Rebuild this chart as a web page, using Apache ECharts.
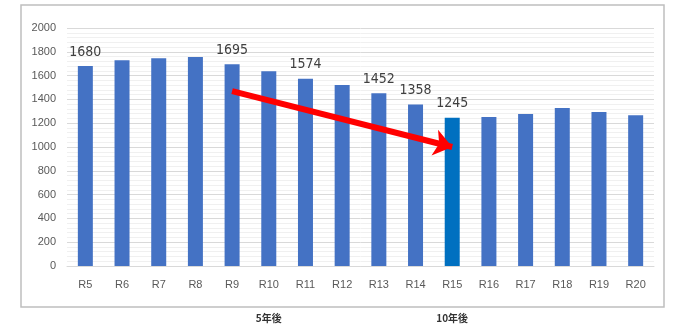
<!DOCTYPE html>
<html><head><meta charset="utf-8">
<script src="https://cdn.jsdelivr.net/npm/echarts@6/dist/echarts.min.js"></script>
<style>html,body{margin:0;padding:0;background:#fff}#c{width:675px;height:325px}</style>
</head><body><div id="c"></div>
<script>
const categories = ['R5','R6','R7','R8','R9','R10','R11','R12','R13','R14','R15','R16','R17','R18','R19','R20'];
const values = [1680,1728,1745,1756,1695,1636,1574,1521,1452,1358,1245,1252,1277,1328,1294,1266];
const labeled = ['R5','R9','R11','R13','R14','R15'];
const highlight = 'R15';
const yTicks = [0,200,400,600,800,1000,1200,1400,1600,1800,2000];
const arrowFrom = ['R9', 1470];
const arrowTo = ['R15', 1000];
const notes = [['R10','5年後'],['R15','10年後']];

const chart = echarts.init(document.getElementById('c'), null, {renderer:'canvas'});
const data = categories.map((c,i)=>({
  value: values[i],
  itemStyle: {color: c===highlight ? '#0070C0' : '#4472C4'},
  label: {show: labeled.includes(c)}
}));
chart.setOption({
  animation:false,
  grid:{left:67,right:21,top:28,bottom:59},
  xAxis:{type:'category',data:categories,
    axisLine:{lineStyle:{color:'#d9d9d9'}},axisTick:{show:false},
    axisLabel:{color:'#595959',fontSize:11,margin:13,fontFamily:'Liberation Sans'}},
  yAxis:{type:'value',min:yTicks[0],max:yTicks[yTicks.length-1],interval:200,
    axisLine:{show:false},axisTick:{show:false},
    axisLabel:{color:'#595959',fontSize:11,margin:11,fontFamily:'Liberation Sans',formatter:v=>String(v)},
    splitLine:{lineStyle:{color:'#d9d9d9'}},
    minorTick:{show:false,splitNumber:5},
    minorSplitLine:{show:true,lineStyle:{color:'#f0f0f0'}}},
  series:[{type:'bar',data:data,barWidth:15,
    label:{position:'top',distance:7,color:'#404040',fontSize:14,fontFamily:'DejaVu Sans Condensed'},
    markLine:{silent:true,symbol:['none','arrow'],symbolSize:[20,18],
      label:{show:false},
      lineStyle:{color:'#FF0000',width:6,type:'solid'},
      data:[[{coord:arrowFrom},{coord:arrowTo}]]}
  }]
});
const gr=[{type:'rect',shape:{x:21,y:5,width:643,height:302},style:{fill:'none',stroke:'#bfbfbf',lineWidth:1.5},z:-1}];
notes.forEach(n=>{
  const x = chart.convertToPixel({xAxisIndex:0}, n[0]);
  gr.push({type:'text',x:x,y:318,style:{text:n[1],fill:'#333',font:'bold 10px "Noto Sans CJK JP"',align:'center',verticalAlign:'middle'}});
});
chart.setOption({graphic:gr});
</script></body></html>
